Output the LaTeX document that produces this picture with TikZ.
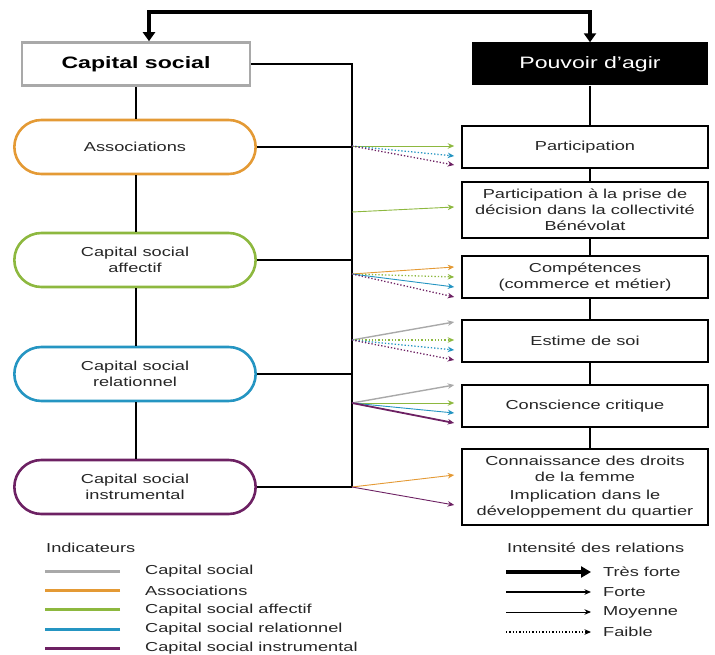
\documentclass[tikz,border=0pt]{standalone}
\usepackage{fontspec}
\setmainfont{Liberation Sans}[FakeStretch=1.4]
\usetikzlibrary{
  calc,positioning,shapes.misc,
  arrows.meta
}

\definecolor{cgris}{HTML}{A9A9A9}
\definecolor{corange}{HTML}{E49A35}
\definecolor{cvert}{HTML}{8DB83F}
\definecolor{cbleu}{HTML}{2595C2}
\definecolor{cviolet}{HTML}{6D2163}
\definecolor{ctexte}{HTML}{262626}

\newcommand{\fsbox}{\fontsize{13}{16}\selectfont}
\newcommand{\fshead}{\fontsize{16.5}{19}\selectfont}

\tikzset{
  entete/.style={minimum width=#1,minimum height=43pt,inner sep=2pt,font=\fshead},
  indic/.style={rounded rectangle,draw=#1,line width=2.6pt,minimum width=248pt,
    minimum height=54pt,align=center,font=\fsbox,text=ctexte},
  effet/.style={draw,line width=1.6pt,minimum width=246pt,minimum height=#1,
    align=center,font=\fsbox,text=ctexte,inner sep=2pt},
  legende/.style={font=\fsbox,text=ctexte,inner sep=0pt},
  lien/.style={line width=1.4pt},
  rel/.style={-{Stealth[length=6.5pt,width=5.5pt]}},
  faible/.style={rel,line width=1.3pt,dotted},
  moyenne/.style={rel,line width=0.9pt},
  forte/.style={rel,line width=1.8pt},
  tresforte/.style={-{Triangle[length=10pt,width=11pt]},line width=3.5pt}
}

\begin{document}
\begin{tikzpicture}[x=1pt,y=-1pt]
\useasboundingbox (0,0) rectangle (715,655);

\node[entete=228pt,draw=cgris,line width=2.6pt] (capital) at (136,64) {\bfseries Capital social};
\node[entete=236pt,fill=black,text=white] (pouvoir) at (590,64) {Pouvoir d'agir};
\draw[line width=3.5pt,{Triangle[length=9pt,width=12pt]}-{Triangle[length=9pt,width=12pt]}]
  ([xshift=13pt]capital.north) -- ++(0,-29) -| (pouvoir.north);

\node[indic=corange] (assoc) at (135,147) {Associations};
\node[indic=cvert] (affectif) at (135,260) {Capital social\\affectif};
\node[indic=cbleu] (relation) at (135,374) {Capital social\\relationnel};
\node[indic=cviolet] (instru) at (135,487) {Capital social\\instrumental};

\node[effet=42pt] (particip) at (585,147) {Participation};
\node[effet=56pt] (decision) at (585,210) {Participation à la prise de\\décision dans la collectivité\\Bénévolat};
\node[effet=42pt] (compet) at (585,277) {Compétences\\(commerce et métier)};
\node[effet=42pt] (estime) at (585,341) {Estime de soi};
\node[effet=42pt] (conscience) at (585,406) {Conscience critique};
\node[effet=76pt] (droits) at (585,487) {Connaissance des droits\\de la femme\\[2pt]Implication dans le\\développement du quartier};

\foreach \a/\b in {capital/assoc,assoc/affectif,affectif/relation,relation/instru}
  \draw[lien] (\a.south -| capital) -- (\b.north -| capital);
\foreach \a/\b in {pouvoir/particip,particip/decision,decision/compet,compet/estime,estime/conscience,conscience/droits}
  \draw[lien] (\a.south -| pouvoir) -- (\b.north -| pouvoir);

\coordinate (bus) at (352,487);
\draw[lien] (capital.east) -| (bus);
\foreach \n in {assoc,affectif,relation,instru}
  \draw[lien] (\n.east) -- (\n.east -| bus);

\coordinate (o1) at (352,146);
\coordinate (o2) at (352,212);
\coordinate (o3) at (352,274);
\coordinate (o4) at (352,340);
\coordinate (o5) at (352,403);
\coordinate (o6) at (352,487);

\draw[moyenne,cvert] (o1) -- ($(particip.west)+(-7,-1)$);
\draw[faible,cbleu] (o1) -- ($(particip.west)+(-7,9)$);
\draw[faible,cviolet] (o1) -- ($(particip.west)+(-7,18)$);

\draw[moyenne,cvert] (o2) -- ($(decision.west)+(-7,-3)$);

\draw[moyenne,corange] (o3) -- ($(compet.west)+(-7,-10)$);
\draw[faible,cvert] (o3) -- ($(compet.west)+(-7,0)$);
\draw[moyenne,cbleu] (o3) -- ($(compet.west)+(-7,10)$);
\draw[faible,cviolet] (o3) -- ($(compet.west)+(-7,20)$);

\draw[moyenne,cgris,line width=1.4pt] (o4) -- ($(estime.west)+(-7,-19)$);
\draw[faible,cvert] (o4) -- ($(estime.west)+(-7,-1)$);
\draw[faible,cbleu] (o4) -- ($(estime.west)+(-7,9)$);
\draw[faible,cviolet] (o4) -- ($(estime.west)+(-7,19)$);

\draw[moyenne,cgris,line width=1.4pt] (o5) -- ($(conscience.west)+(-7,-21)$);
\draw[moyenne,cvert] (o5) -- ($(conscience.west)+(-7,-3)$);
\draw[moyenne,cbleu] (o5) -- ($(conscience.west)+(-7,7)$);
\draw[forte,cviolet] (o5) -- ($(conscience.west)+(-7,17)$);

\draw[moyenne,corange] (o6) -- ($(droits.west)+(-7,-12)$);
\draw[moyenne,cviolet] (o6) -- ($(droits.west)+(-7,18)$);

\node[legende,anchor=west] (indic) at (46,548) {Indicateurs};
\foreach \c/\t [count=\i] in {cgris/Capital social,corange/Associations,cvert/Capital social affectif,cbleu/Capital social relationnel,cviolet/Capital social instrumental}
{
  \node[legende,anchor=west] (ind\i) at (145,{552+19.3*\i}) {\t};
  \draw[line width=3pt,\c] ([xshift=-25pt]ind\i.west) -- ++(-75,0);
}

\node[legende,anchor=west] (intens) at (507,548) {Intensité des relations};
\foreach \s/\t [count=\i] in {tresforte/Très forte,forte/Forte,moyenne/Moyenne,faible/Faible}
{
  \node[legende,anchor=west] (int\i) at (603,{552+20*\i}) {\t};
  \draw[\s,black] ([xshift=-97pt]int\i.west) -- ([xshift=-12pt]int\i.west);
}
\end{tikzpicture}
\end{document}
